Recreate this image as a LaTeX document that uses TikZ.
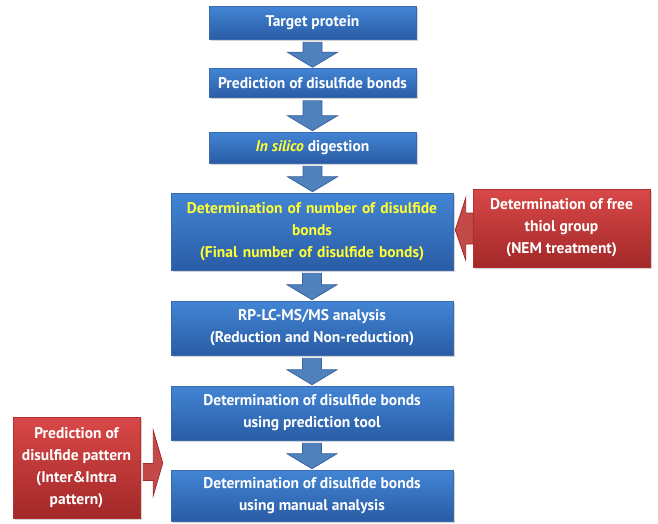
\documentclass[tikz,border=0pt]{standalone}
\usepackage{fontspec}
\setmainfont{PT Sans}
\usetikzlibrary{calc,shadows}

\definecolor{boxtop}{HTML}{4285D4}
\definecolor{boxbot}{HTML}{2A5CA5}
\definecolor{boxline}{HTML}{3A6BAE}
\definecolor{arrfill}{HTML}{4F81BD}
\definecolor{arrline}{HTML}{3A65A0}
\definecolor{redtop}{HTML}{D94848}
\definecolor{redbot}{HTML}{A32828}
\definecolor{redline}{HTML}{B03030}
\definecolor{redarr}{HTML}{C44A4A}
\definecolor{hilite}{HTML}{FFFF33}

% fat block arrow pointing down, from one box to the next
\newcommand{\fatdown}[2]{%
\filldraw[fill=arrfill, draw=arrline, line width=0.8pt]
  let \p1=(#1.south), \p2=(#2.north) in
  (\x1-9.5pt,\y1-3pt) -- (\x1+9.5pt,\y1-3pt) -- (\x1+9.5pt,\y2+16pt)
  -- (\x1+25pt,\y2+16pt) -- (\x1,\y2+1pt) -- (\x1-25pt,\y2+16pt)
  -- (\x1-9.5pt,\y2+16pt) -- cycle;}

\begin{document}
\begin{tikzpicture}[x=1pt, y=-1pt,
  bluebox/.style={draw=boxline, line width=0.6pt, top color=boxtop, bottom color=boxbot,
    text=white, font=\fontsize{15.5}{22}\selectfont\bfseries, align=center,
    drop shadow={shadow xshift=1.5pt, shadow yshift=-1.5pt, opacity=0.35}},
  redbox/.style={draw=redline, line width=0.6pt, top color=redtop, bottom color=redbot,
    text=white, font=\fontsize{15.5}{22}\selectfont\bfseries, align=center,
    drop shadow={shadow xshift=1.5pt, shadow yshift=-1.5pt, opacity=0.35}},
  redarrow/.style={fill=redarr, draw=redbot, line width=0.8pt}]
\useasboundingbox (0,0) rectangle (658,523);

% main column
\node[bluebox, minimum width=207pt, minimum height=33pt] (tp) at (312.5,22.5) {Target protein};
\node[bluebox, minimum width=207pt, minimum height=29pt] (pred) at (312.5,83) {Prediction of disulfide bonds};
\node[bluebox, minimum width=207pt, minimum height=31pt] (silico) at (312.5,147.5)
  {\textcolor{hilite}{\itshape In silico} digestion};
\node[bluebox, text=hilite, minimum width=282pt, minimum height=77pt, text width=270pt] (num) at (312,231.5)
  {Determination of number of disulfide\\bonds\\(Final number of disulfide bonds)};
\node[bluebox, minimum width=282pt, minimum height=54pt] (rp) at (312,328)
  {RP-LC-MS/MS analysis\\(Reduction and Non-reduction)};
\node[bluebox, minimum width=282pt, minimum height=54pt] (tool) at (312,413)
  {Determination of disulfide bonds\\using prediction tool};
\node[bluebox, minimum width=282pt, minimum height=51pt] (manual) at (312,495.5)
  {Determination of disulfide bonds\\using manual analysis};

% side inputs
\node[redbox, minimum width=177pt, minimum height=78pt] (free) at (561.5,228)
  {Determination of free\\thiol group\\(NEM treatment)};
\node[redbox, minimum width=127pt, minimum height=101pt, inner sep=1pt] (pat) at (76.5,467.5)
  {Prediction of\\disulfide pattern\\(Inter\&Intra\\pattern)};

\fatdown{tp}{pred}
\fatdown{pred}{silico}
\fatdown{silico}{num}
\fatdown{num}{rp}
\fatdown{rp}{tool}
\fatdown{tool}{manual}

\filldraw[redarrow] let \p1=(free.west), \p2=(num.east) in
  (\x1,\y1-16pt) -- (\x1-7pt,\y1-16pt) -- (\x1-7pt,\y1-32pt) -- (\x2+2pt,\y1-2pt)
  -- (\x1-7pt,\y1+30pt) -- (\x1-7pt,\y1+15pt) -- (\x1,\y1+15pt) -- cycle;
\filldraw[redarrow] let \p1=(pat.east), \p2=(manual.west) in
  (\x1+3pt,\y1+4pt) -- (\x1+13pt,\y1+4pt) -- (\x1+13pt,\y1+37pt) -- (\x2-8pt,\y1+4.5pt)
  -- (\x1+13pt,\y1-28pt) -- (\x1+13pt,\y1-13pt) -- (\x1+3pt,\y1-13pt) -- cycle;
\end{tikzpicture}
\end{document}
